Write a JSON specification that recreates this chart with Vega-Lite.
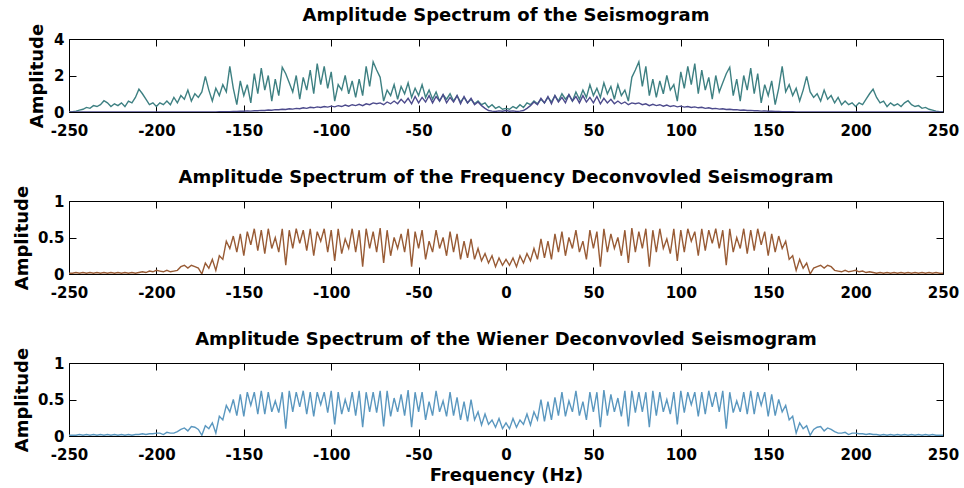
{
"$schema":"https://vega.github.io/schema/vega-lite/v6.json",
"background":"white",
"padding":{"left":12,"top":6,"right":4,"bottom":4},
"config":{
"font":"DejaVu Sans",
"view":{"stroke":"black","strokeWidth":1},
"axis":{"grid":false,"domain":false,"tickColor":"black","tickSize":-7,"tickWidth":1,"labelFont":"DejaVu Sans","labelFontWeight":"bold","labelFontSize":15,"labelColor":"black","labelFlush":false,"labelOverlap":false,"titleFont":"DejaVu Sans","titleFontWeight":"bold","titleFontSize":18,"titleColor":"black"},
"axisX":{"labelPadding":18,"titlePadding":4,"labelExpr":"datum.value < 0 ? '-' + (-datum.value) : '' + datum.value"},
"axisY":{"labelPadding":12,"titlePadding":8,"format":"~g"},
"title":{"font":"DejaVu Sans","fontWeight":"bold","fontSize":18,"color":"black","anchor":"middle","baseline":"alphabetic","offset":-2},
"line":{"strokeWidth":1.4}
},
"data":{"values":[
{"f":-250,"s":0,"w":0,"d":0.01,"n":0.01},
{"f":-248,"s":0.02,"w":0,"d":0.01,"n":0.01},
{"f":-246,"s":0.05,"w":0,"d":0.02,"n":0.01},
{"f":-244,"s":0.1,"w":0,"d":0.01,"n":0.02},
{"f":-242,"s":0.15,"w":0,"d":0.02,"n":0.01},
{"f":-240,"s":0.25,"w":0,"d":0.01,"n":0.02},
{"f":-238,"s":0.2,"w":0,"d":0.02,"n":0.01},
{"f":-236,"s":0.35,"w":0,"d":0.01,"n":0.02},
{"f":-234,"s":0.3,"w":0,"d":0.02,"n":0.01},
{"f":-232,"s":0.4,"w":0,"d":0.01,"n":0.02},
{"f":-230,"s":0.62,"w":0,"d":0.02,"n":0.01},
{"f":-228,"s":0.5,"w":0,"d":0.01,"n":0.02},
{"f":-226,"s":0.3,"w":0,"d":0.02,"n":0.01},
{"f":-224,"s":0.45,"w":0,"d":0.01,"n":0.02},
{"f":-222,"s":0.35,"w":0,"d":0.02,"n":0.01},
{"f":-220,"s":0.5,"w":0,"d":0.01,"n":0.02},
{"f":-218,"s":0.3,"w":0,"d":0.02,"n":0.01},
{"f":-216,"s":0.6,"w":0,"d":0.01,"n":0.02},
{"f":-214,"s":0.5,"w":0,"d":0.02,"n":0.01},
{"f":-212,"s":0.8,"w":0,"d":0.01,"n":0.02},
{"f":-210,"s":1.25,"w":0,"d":0.02,"n":0.02},
{"f":-208,"s":1.0,"w":0,"d":0.03,"n":0.03},
{"f":-206,"s":0.7,"w":0,"d":0.02,"n":0.02},
{"f":-204,"s":0.4,"w":0,"d":0.04,"n":0.03},
{"f":-202,"s":0.5,"w":0,"d":0.03,"n":0.03},
{"f":-200,"s":0.3,"w":0,"d":0.05,"n":0.04},
{"f":-198,"s":0.5,"w":0,"d":0.04,"n":0.04},
{"f":-196,"s":0.4,"w":0,"d":0.03,"n":0.02},
{"f":-194,"s":0.6,"w":0,"d":0.05,"n":0.05},
{"f":-192,"s":0.4,"w":0,"d":0.03,"n":0.04},
{"f":-190,"s":0.8,"w":0,"d":0.04,"n":0.04},
{"f":-188,"s":0.5,"w":0,"d":0.05,"n":0.06},
{"f":-186,"s":0.9,"w":0,"d":0.1,"n":0.09},
{"f":-184,"s":0.7,"w":0,"d":0.12,"n":0.11},
{"f":-182,"s":1.2,"w":0,"d":0.08,"n":0.07},
{"f":-180,"s":0.6,"w":0,"d":0.12,"n":0.13},
{"f":-178,"s":1.0,"w":0,"d":0.1,"n":0.12},
{"f":-176,"s":0.8,"w":0,"d":0.08,"n":0.09},
{"f":-174,"s":1.1,"w":0,"d":0.0,"n":0.01},
{"f":-172,"s":1.95,"w":0,"d":0.15,"n":0.14},
{"f":-170,"s":1.2,"w":0,"d":0.08,"n":0.1},
{"f":-168,"s":0.6,"w":0,"d":0.2,"n":0.18},
{"f":-166,"s":1.3,"w":0,"d":0.05,"n":0.04},
{"f":-164,"s":0.9,"w":0.01,"d":0.25,"n":0.27},
{"f":-162,"s":1.5,"w":0.01,"d":0.2,"n":0.22},
{"f":-160,"s":1.1,"w":0.02,"d":0.45,"n":0.42},
{"f":-158,"s":2.5,"w":0.02,"d":0.35,"n":0.33},
{"f":-156,"s":1.3,"w":0.03,"d":0.52,"n":0.5},
{"f":-154,"s":0.4,"w":0.03,"d":0.3,"n":0.28},
{"f":-152,"s":1.7,"w":0.04,"d":0.55,"n":0.57},
{"f":-150,"s":0.9,"w":0.04,"d":0.25,"n":0.27},
{"f":-148,"s":1.5,"w":0.06,"d":0.58,"n":0.6},
{"f":-146,"s":0.5,"w":0.05,"d":0.4,"n":0.42},
{"f":-144,"s":2.1,"w":0.07,"d":0.62,"n":0.6},
{"f":-142,"s":1.0,"w":0.07,"d":0.32,"n":0.3},
{"f":-140,"s":2.4,"w":0.09,"d":0.6,"n":0.62},
{"f":-138,"s":1.2,"w":0.08,"d":0.28,"n":0.3},
{"f":-136,"s":2.0,"w":0.11,"d":0.62,"n":0.6},
{"f":-134,"s":0.6,"w":0.1,"d":0.35,"n":0.33},
{"f":-132,"s":1.8,"w":0.13,"d":0.5,"n":0.48},
{"f":-130,"s":0.9,"w":0.12,"d":0.3,"n":0.32},
{"f":-128,"s":2.45,"w":0.15,"d":0.62,"n":0.6},
{"f":-126,"s":2.1,"w":0.14,"d":0.12,"n":0.1},
{"f":-124,"s":1.6,"w":0.18,"d":0.6,"n":0.62},
{"f":-122,"s":1.1,"w":0.16,"d":0.35,"n":0.33},
{"f":-120,"s":2.0,"w":0.2,"d":0.62,"n":0.6},
{"f":-118,"s":0.7,"w":0.18,"d":0.42,"n":0.4},
{"f":-116,"s":1.9,"w":0.23,"d":0.6,"n":0.62},
{"f":-114,"s":1.2,"w":0.2,"d":0.32,"n":0.3},
{"f":-112,"s":2.3,"w":0.26,"d":0.62,"n":0.6},
{"f":-110,"s":1.0,"w":0.23,"d":0.25,"n":0.27},
{"f":-108,"s":2.65,"w":0.28,"d":0.58,"n":0.6},
{"f":-106,"s":1.5,"w":0.25,"d":0.45,"n":0.43},
{"f":-104,"s":2.5,"w":0.3,"d":0.62,"n":0.6},
{"f":-102,"s":1.3,"w":0.27,"d":0.3,"n":0.32},
{"f":-100,"s":2.2,"w":0.32,"d":0.6,"n":0.62},
{"f":-98,"s":0.6,"w":0.28,"d":0.18,"n":0.16},
{"f":-96,"s":1.5,"w":0.35,"d":0.62,"n":0.6},
{"f":-94,"s":1.2,"w":0.3,"d":0.28,"n":0.3},
{"f":-92,"s":2.0,"w":0.38,"d":0.48,"n":0.5},
{"f":-90,"s":1.0,"w":0.32,"d":0.35,"n":0.33},
{"f":-88,"s":1.7,"w":0.4,"d":0.62,"n":0.6},
{"f":-86,"s":0.8,"w":0.35,"d":0.3,"n":0.28},
{"f":-84,"s":1.8,"w":0.42,"d":0.6,"n":0.62},
{"f":-82,"s":0.9,"w":0.35,"d":0.1,"n":0.12},
{"f":-80,"s":2.5,"w":0.45,"d":0.62,"n":0.6},
{"f":-78,"s":1.4,"w":0.4,"d":0.35,"n":0.33},
{"f":-76,"s":2.75,"w":0.5,"d":0.58,"n":0.6},
{"f":-74,"s":2.3,"w":0.45,"d":0.3,"n":0.32},
{"f":-72,"s":1.9,"w":0.5,"d":0.63,"n":0.62},
{"f":-70,"s":0.6,"w":0.4,"d":0.15,"n":0.13},
{"f":-68,"s":1.2,"w":0.55,"d":0.6,"n":0.62},
{"f":-66,"s":0.9,"w":0.45,"d":0.25,"n":0.27},
{"f":-64,"s":1.5,"w":0.6,"d":0.5,"n":0.52},
{"f":-62,"s":0.7,"w":0.45,"d":0.35,"n":0.33},
{"f":-60,"s":1.4,"w":0.7,"d":0.55,"n":0.57},
{"f":-58,"s":1.0,"w":0.5,"d":0.3,"n":0.28},
{"f":-56,"s":1.6,"w":0.75,"d":0.62,"n":0.63},
{"f":-54,"s":0.8,"w":0.45,"d":0.1,"n":0.12},
{"f":-52,"s":1.3,"w":0.85,"d":0.58,"n":0.6},
{"f":-50,"s":0.9,"w":0.5,"d":0.35,"n":0.33},
{"f":-48,"s":1.5,"w":0.8,"d":0.6,"n":0.6},
{"f":-46,"s":0.8,"w":0.55,"d":0.2,"n":0.22},
{"f":-44,"s":1.2,"w":0.9,"d":0.45,"n":0.47},
{"f":-42,"s":0.7,"w":0.5,"d":0.3,"n":0.28},
{"f":-40,"s":1.1,"w":0.85,"d":0.6,"n":0.62},
{"f":-38,"s":0.6,"w":0.6,"d":0.35,"n":0.33},
{"f":-36,"s":0.95,"w":0.95,"d":0.5,"n":0.48},
{"f":-34,"s":0.7,"w":0.5,"d":0.25,"n":0.27},
{"f":-32,"s":1.0,"w":0.8,"d":0.58,"n":0.6},
{"f":-30,"s":0.6,"w":0.55,"d":0.3,"n":0.28},
{"f":-28,"s":0.9,"w":0.9,"d":0.55,"n":0.53},
{"f":-26,"s":0.55,"w":0.45,"d":0.2,"n":0.22},
{"f":-24,"s":0.8,"w":0.85,"d":0.45,"n":0.47},
{"f":-22,"s":0.5,"w":0.5,"d":0.22,"n":0.2},
{"f":-20,"s":0.7,"w":0.75,"d":0.48,"n":0.5},
{"f":-18,"s":0.45,"w":0.4,"d":0.2,"n":0.22},
{"f":-16,"s":0.6,"w":0.55,"d":0.35,"n":0.33},
{"f":-14,"s":0.4,"w":0.35,"d":0.18,"n":0.15},
{"f":-12,"s":0.5,"w":0.2,"d":0.28,"n":0.3},
{"f":-10,"s":0.25,"w":0.08,"d":0.15,"n":0.16},
{"f":-8,"s":0.4,"w":0.05,"d":0.25,"n":0.22},
{"f":-6,"s":0.2,"w":0.03,"d":0.1,"n":0.12},
{"f":-4,"s":0.3,"w":0.06,"d":0.22,"n":0.24},
{"f":-2,"s":0.15,"w":0.04,"d":0.12,"n":0.1},
{"f":0,"s":0.2,"w":0.08,"d":0.2,"n":0.18},
{"f":2,"s":0.15,"w":0.04,"d":0.12,"n":0.1},
{"f":4,"s":0.3,"w":0.06,"d":0.22,"n":0.24},
{"f":6,"s":0.2,"w":0.03,"d":0.1,"n":0.12},
{"f":8,"s":0.4,"w":0.05,"d":0.25,"n":0.22},
{"f":10,"s":0.25,"w":0.08,"d":0.15,"n":0.16},
{"f":12,"s":0.5,"w":0.2,"d":0.28,"n":0.3},
{"f":14,"s":0.4,"w":0.35,"d":0.18,"n":0.15},
{"f":16,"s":0.6,"w":0.55,"d":0.35,"n":0.33},
{"f":18,"s":0.45,"w":0.4,"d":0.2,"n":0.22},
{"f":20,"s":0.7,"w":0.75,"d":0.48,"n":0.5},
{"f":22,"s":0.5,"w":0.5,"d":0.22,"n":0.2},
{"f":24,"s":0.8,"w":0.85,"d":0.45,"n":0.47},
{"f":26,"s":0.55,"w":0.45,"d":0.2,"n":0.22},
{"f":28,"s":0.9,"w":0.9,"d":0.55,"n":0.53},
{"f":30,"s":0.6,"w":0.55,"d":0.3,"n":0.28},
{"f":32,"s":1.0,"w":0.8,"d":0.58,"n":0.6},
{"f":34,"s":0.7,"w":0.5,"d":0.25,"n":0.27},
{"f":36,"s":0.95,"w":0.95,"d":0.5,"n":0.48},
{"f":38,"s":0.6,"w":0.6,"d":0.35,"n":0.33},
{"f":40,"s":1.1,"w":0.85,"d":0.6,"n":0.62},
{"f":42,"s":0.7,"w":0.5,"d":0.3,"n":0.28},
{"f":44,"s":1.2,"w":0.9,"d":0.45,"n":0.47},
{"f":46,"s":0.8,"w":0.55,"d":0.2,"n":0.22},
{"f":48,"s":1.5,"w":0.8,"d":0.6,"n":0.6},
{"f":50,"s":0.9,"w":0.5,"d":0.35,"n":0.33},
{"f":52,"s":1.3,"w":0.85,"d":0.58,"n":0.6},
{"f":54,"s":0.8,"w":0.45,"d":0.1,"n":0.12},
{"f":56,"s":1.6,"w":0.75,"d":0.62,"n":0.63},
{"f":58,"s":1.0,"w":0.5,"d":0.3,"n":0.28},
{"f":60,"s":1.4,"w":0.7,"d":0.55,"n":0.57},
{"f":62,"s":0.7,"w":0.45,"d":0.35,"n":0.33},
{"f":64,"s":1.5,"w":0.6,"d":0.5,"n":0.52},
{"f":66,"s":0.9,"w":0.45,"d":0.25,"n":0.27},
{"f":68,"s":1.2,"w":0.55,"d":0.6,"n":0.62},
{"f":70,"s":0.6,"w":0.4,"d":0.15,"n":0.13},
{"f":72,"s":1.9,"w":0.5,"d":0.63,"n":0.62},
{"f":74,"s":2.3,"w":0.45,"d":0.3,"n":0.32},
{"f":76,"s":2.75,"w":0.5,"d":0.58,"n":0.6},
{"f":78,"s":1.4,"w":0.4,"d":0.35,"n":0.33},
{"f":80,"s":2.5,"w":0.45,"d":0.62,"n":0.6},
{"f":82,"s":0.9,"w":0.35,"d":0.1,"n":0.12},
{"f":84,"s":1.8,"w":0.42,"d":0.6,"n":0.62},
{"f":86,"s":0.8,"w":0.35,"d":0.3,"n":0.28},
{"f":88,"s":1.7,"w":0.4,"d":0.62,"n":0.6},
{"f":90,"s":1.0,"w":0.32,"d":0.35,"n":0.33},
{"f":92,"s":2.0,"w":0.38,"d":0.48,"n":0.5},
{"f":94,"s":1.2,"w":0.3,"d":0.28,"n":0.3},
{"f":96,"s":1.5,"w":0.35,"d":0.62,"n":0.6},
{"f":98,"s":0.6,"w":0.28,"d":0.18,"n":0.16},
{"f":100,"s":2.2,"w":0.32,"d":0.6,"n":0.62},
{"f":102,"s":1.3,"w":0.27,"d":0.3,"n":0.32},
{"f":104,"s":2.5,"w":0.3,"d":0.62,"n":0.6},
{"f":106,"s":1.5,"w":0.25,"d":0.45,"n":0.43},
{"f":108,"s":2.65,"w":0.28,"d":0.58,"n":0.6},
{"f":110,"s":1.0,"w":0.23,"d":0.25,"n":0.27},
{"f":112,"s":2.3,"w":0.26,"d":0.62,"n":0.6},
{"f":114,"s":1.2,"w":0.2,"d":0.32,"n":0.3},
{"f":116,"s":1.9,"w":0.23,"d":0.6,"n":0.62},
{"f":118,"s":0.7,"w":0.18,"d":0.42,"n":0.4},
{"f":120,"s":2.0,"w":0.2,"d":0.62,"n":0.6},
{"f":122,"s":1.1,"w":0.16,"d":0.35,"n":0.33},
{"f":124,"s":1.6,"w":0.18,"d":0.6,"n":0.62},
{"f":126,"s":2.1,"w":0.14,"d":0.12,"n":0.1},
{"f":128,"s":2.45,"w":0.15,"d":0.62,"n":0.6},
{"f":130,"s":0.9,"w":0.12,"d":0.3,"n":0.32},
{"f":132,"s":1.8,"w":0.13,"d":0.5,"n":0.48},
{"f":134,"s":0.6,"w":0.1,"d":0.35,"n":0.33},
{"f":136,"s":2.0,"w":0.11,"d":0.62,"n":0.6},
{"f":138,"s":1.2,"w":0.08,"d":0.28,"n":0.3},
{"f":140,"s":2.4,"w":0.09,"d":0.6,"n":0.62},
{"f":142,"s":1.0,"w":0.07,"d":0.32,"n":0.3},
{"f":144,"s":2.1,"w":0.07,"d":0.62,"n":0.6},
{"f":146,"s":0.5,"w":0.05,"d":0.4,"n":0.42},
{"f":148,"s":1.5,"w":0.06,"d":0.58,"n":0.6},
{"f":150,"s":0.9,"w":0.04,"d":0.25,"n":0.27},
{"f":152,"s":1.7,"w":0.04,"d":0.55,"n":0.57},
{"f":154,"s":0.4,"w":0.03,"d":0.3,"n":0.28},
{"f":156,"s":1.3,"w":0.03,"d":0.52,"n":0.5},
{"f":158,"s":2.5,"w":0.02,"d":0.35,"n":0.33},
{"f":160,"s":1.1,"w":0.02,"d":0.45,"n":0.42},
{"f":162,"s":1.5,"w":0.01,"d":0.2,"n":0.22},
{"f":164,"s":0.9,"w":0.01,"d":0.25,"n":0.27},
{"f":166,"s":1.3,"w":0,"d":0.05,"n":0.04},
{"f":168,"s":0.6,"w":0,"d":0.2,"n":0.18},
{"f":170,"s":1.2,"w":0,"d":0.08,"n":0.1},
{"f":172,"s":1.95,"w":0,"d":0.15,"n":0.14},
{"f":174,"s":1.1,"w":0,"d":0.0,"n":0.01},
{"f":176,"s":0.8,"w":0,"d":0.08,"n":0.09},
{"f":178,"s":1.0,"w":0,"d":0.1,"n":0.12},
{"f":180,"s":0.6,"w":0,"d":0.12,"n":0.13},
{"f":182,"s":1.2,"w":0,"d":0.08,"n":0.07},
{"f":184,"s":0.7,"w":0,"d":0.12,"n":0.11},
{"f":186,"s":0.9,"w":0,"d":0.1,"n":0.09},
{"f":188,"s":0.5,"w":0,"d":0.05,"n":0.06},
{"f":190,"s":0.8,"w":0,"d":0.04,"n":0.04},
{"f":192,"s":0.4,"w":0,"d":0.03,"n":0.04},
{"f":194,"s":0.6,"w":0,"d":0.05,"n":0.05},
{"f":196,"s":0.4,"w":0,"d":0.03,"n":0.02},
{"f":198,"s":0.5,"w":0,"d":0.04,"n":0.04},
{"f":200,"s":0.3,"w":0,"d":0.05,"n":0.04},
{"f":202,"s":0.5,"w":0,"d":0.03,"n":0.03},
{"f":204,"s":0.4,"w":0,"d":0.04,"n":0.03},
{"f":206,"s":0.7,"w":0,"d":0.02,"n":0.02},
{"f":208,"s":1.0,"w":0,"d":0.03,"n":0.03},
{"f":210,"s":1.25,"w":0,"d":0.02,"n":0.02},
{"f":212,"s":0.8,"w":0,"d":0.01,"n":0.02},
{"f":214,"s":0.5,"w":0,"d":0.02,"n":0.01},
{"f":216,"s":0.6,"w":0,"d":0.01,"n":0.02},
{"f":218,"s":0.3,"w":0,"d":0.02,"n":0.01},
{"f":220,"s":0.5,"w":0,"d":0.01,"n":0.02},
{"f":222,"s":0.35,"w":0,"d":0.02,"n":0.01},
{"f":224,"s":0.45,"w":0,"d":0.01,"n":0.02},
{"f":226,"s":0.3,"w":0,"d":0.02,"n":0.01},
{"f":228,"s":0.5,"w":0,"d":0.01,"n":0.02},
{"f":230,"s":0.62,"w":0,"d":0.02,"n":0.01},
{"f":232,"s":0.4,"w":0,"d":0.01,"n":0.02},
{"f":234,"s":0.3,"w":0,"d":0.02,"n":0.01},
{"f":236,"s":0.35,"w":0,"d":0.01,"n":0.02},
{"f":238,"s":0.2,"w":0,"d":0.02,"n":0.01},
{"f":240,"s":0.25,"w":0,"d":0.01,"n":0.02},
{"f":242,"s":0.15,"w":0,"d":0.02,"n":0.01},
{"f":244,"s":0.1,"w":0,"d":0.01,"n":0.02},
{"f":246,"s":0.05,"w":0,"d":0.02,"n":0.01},
{"f":248,"s":0.02,"w":0,"d":0.01,"n":0.01},
{"f":250,"s":0,"w":0,"d":0.01,"n":0.01}
]},
"bounds":"flush",
"spacing":89,
"vconcat":[
{
"title":"Amplitude Spectrum of the Seismogram",
"width":874,"height":73,
"layer":[
{"mark":{"type":"line","color":"#3e8082","clip":true},
"encoding":{
"x":{"field":"f","type":"quantitative","scale":{"domain":[-250,250],"nice":false,"zero":false},"axis":{"orient":"bottom","values":[-250,-200,-150,-100,-50,0,50,100,150,200,250],"title":null}},
"y":{"field":"s","type":"quantitative","scale":{"domain":[0,4],"nice":false},"axis":{"orient":"left","values":[0,2,4],"title":"Amplitude","titlePadding":7}}}},
{"mark":{"type":"line","color":"#4c4a8c","clip":true},
"encoding":{
"x":{"field":"f","type":"quantitative","axis":{"orient":"top","values":[-250,-200,-150,-100,-50,0,50,100,150,200,250],"labels":false,"title":null}},
"y":{"field":"w","type":"quantitative","axis":{"orient":"right","values":[0,2,4],"labels":false,"title":null}}}}
],
"resolve":{"axis":{"x":"independent","y":"independent"}}
},
{
"title":"Amplitude Spectrum of the Frequency Deconvovled Seismogram",
"width":874,"height":73,
"layer":[
{"mark":{"type":"line","color":"#985b35","clip":true},
"encoding":{
"x":{"field":"f","type":"quantitative","scale":{"domain":[-250,250],"nice":false,"zero":false},"axis":{"orient":"bottom","values":[-250,-200,-150,-100,-50,0,50,100,150,200,250],"title":null}},
"y":{"field":"d","type":"quantitative","scale":{"domain":[0,1],"nice":false},"axis":{"orient":"left","values":[0,0.5,1],"title":"Amplitude","titlePadding":6}}}},
{"mark":{"type":"line","opacity":0},
"encoding":{
"x":{"field":"f","type":"quantitative","axis":{"orient":"top","values":[-250,-200,-150,-100,-50,0,50,100,150,200,250],"labels":false,"title":null}},
"y":{"field":"d","type":"quantitative","axis":{"orient":"right","values":[0,0.5,1],"labels":false,"title":null}}}}
],
"resolve":{"axis":{"x":"independent","y":"independent"}}
},
{
"title":"Amplitude Spectrum of the Wiener Deconvovled Seismogram",
"width":874,"height":73,
"layer":[
{"mark":{"type":"line","color":"#5a97bf","clip":true},
"encoding":{
"x":{"field":"f","type":"quantitative","scale":{"domain":[-250,250],"nice":false,"zero":false},"axis":{"orient":"bottom","values":[-250,-200,-150,-100,-50,0,50,100,150,200,250],"title":"Frequency (Hz)"}},
"y":{"field":"n","type":"quantitative","scale":{"domain":[0,1],"nice":false},"axis":{"orient":"left","values":[0,0.5,1],"title":"Amplitude","titlePadding":6}}}},
{"mark":{"type":"line","opacity":0},
"encoding":{
"x":{"field":"f","type":"quantitative","axis":{"orient":"top","values":[-250,-200,-150,-100,-50,0,50,100,150,200,250],"labels":false,"title":null}},
"y":{"field":"n","type":"quantitative","axis":{"orient":"right","values":[0,0.5,1],"labels":false,"title":null}}}}
],
"resolve":{"axis":{"x":"independent","y":"independent"}}
}
]
}
